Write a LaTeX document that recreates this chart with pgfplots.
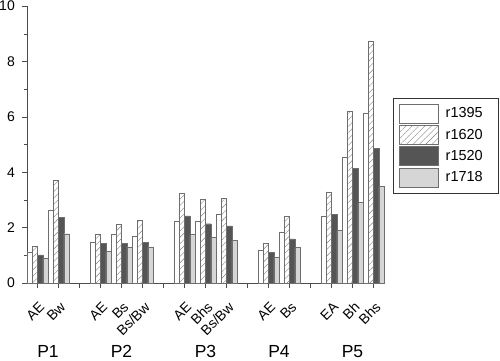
\documentclass[border=0pt]{standalone}
\usepackage{fontspec}
\setmainfont{Liberation Sans}
\usepackage{pgfplots}
\pgfplotsset{compat=1.18}
\usetikzlibrary{patterns,patterns.meta}
\definecolor{barline}{HTML}{6E6E6E}
\definecolor{darkfill}{HTML}{555555}
\definecolor{lightfill}{HTML}{D6D6D6}
\begin{document}
\begin{tikzpicture}
\begin{axis}[
  name=ax,
  scale only axis,
  width=357pt, height=277pt,
  xmin=-0.5, xmax=16.5, ymin=0, ymax=10,
  axis lines=left,
  axis line style={-, draw=black!70},
  every tick/.style={draw=black!70},
  tick align=outside,
  major tick length=5pt, minor tick length=2.5pt,
  ytick={0,2,...,10}, minor ytick={1,3,...,9},
  xtick={0,...,16},
  xticklabels={AE,Bw,,AE,Bs,Bs/Bw,,AE,Bhs,Bs/Bw,,AE,Bs,,EA,Bh,Bhs},
  xticklabel style={xshift=1pt, yshift=-13pt, rotate=45, anchor=north east, font=\fontsize{14}{16}\selectfont, inner sep=0pt},
  yticklabel style={font=\fontsize{14}{16}\selectfont, inner ysep=0pt, inner xsep=7pt},
  /pgf/number format/assume math mode=true,
  ybar, bar width=0.25,
  clip=false,
  legend style={at={(1.0255,0.668)}, anchor=north west, draw=black!80,
    font=\fontsize{14.5}{17}\selectfont, row sep=2pt, column sep=7.5pt,
    inner xsep=6pt, inner ysep=5.5pt, nodes={inner sep=0pt}},
  legend cell align=left,
  legend image code/.code={\draw[#1] (0pt,-9.5pt) rectangle (38.5pt,9.5pt);},
]
\addplot[bar shift=-0.375, draw=barline, fill=white] coordinates {
 (0,1.12) (1,2.62) (3,1.48) (4,1.78) (5,1.69) (7,2.23) (8,2.24) (9,2.47)
 (11,1.18) (12,1.84) (14,2.41) (15,4.54) (16,6.14)};
\addplot[bar shift=-0.125, draw=barline, pattern={Lines[angle=45,distance=4.5pt,line width=0.4pt]}, pattern color=gray] coordinates {
 (0,1.34) (1,3.70) (3,1.78) (4,2.11) (5,2.26) (7,3.23) (8,3.02) (9,3.05)
 (11,1.42) (12,2.41) (14,3.29) (15,6.20) (16,8.74)};
\addplot[bar shift=0.125, draw=barline, fill=darkfill] coordinates {
 (0,1.02) (1,2.38) (3,1.44) (4,1.42) (5,1.48) (7,2.42) (8,2.14) (9,2.06)
 (11,1.10) (12,1.59) (14,2.47) (15,4.15) (16,4.86)};
\addplot[bar shift=0.375, draw=barline, fill=lightfill] coordinates {
 (0,0.90) (1,1.78) (3,1.14) (4,1.30) (5,1.30) (7,1.75) (8,1.66) (9,1.53)
 (11,0.93) (12,1.28) (14,1.90) (15,2.90) (16,3.48)};
\legend{\makebox[46pt][l]{r1395},\makebox[46pt][l]{r1620},\makebox[46pt][l]{r1520},\makebox[46pt][l]{r1718}}
\node[font=\fontsize{17.5}{19}\selectfont, inner sep=0pt] at (axis cs:0.5,-2.47) {P1};
\node[font=\fontsize{17.5}{19}\selectfont, inner sep=0pt] at (axis cs:4,-2.47) {P2};
\node[font=\fontsize{17.5}{19}\selectfont, inner sep=0pt] at (axis cs:8,-2.47) {P3};
\node[font=\fontsize{17.5}{19}\selectfont, inner sep=0pt] at (axis cs:11.5,-2.47) {P4};
\node[font=\fontsize{17.5}{19}\selectfont, inner sep=0pt] at (axis cs:15,-2.47) {P5};
\end{axis}
\pgfresetboundingbox
\path ([shift={(-27pt,-77pt)}]ax.south west) rectangle ([shift={(473pt,283pt)}]ax.south west);
\end{tikzpicture}
\end{document}
